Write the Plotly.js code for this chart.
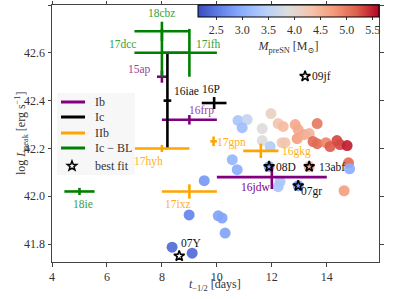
<!DOCTYPE html>
<html>
<head>
<meta charset="utf-8">
<script src="https://cdn.plot.ly/plotly-3.0.1.min.js"></script>
<style>html,body{margin:0;padding:0;background:#fff;}#plot{width:399px;height:299px;}</style>
</head>
<body>
<div id="plot"></div>
<script>
// ---- data: colored model points ----
const modelX = [10.77,11.10,10.92,11.65,11.97,12.23,12.41,12.85,12.96,12.92,13.17,13.36,13.65,13.50,13.65,13.97,14.12,14.37,14.48,14.74,11.65,11.94,12.37,12.48,14.79,14.83,14.63,12.30,12.23,10.56,10.74,9.54,8.99,10.05,10.19,10.30,9.10,8.37,11.90,13.36,12.96];
const modelY = [42.317,42.321,42.287,42.283,42.346,42.304,42.292,42.300,42.279,42.241,42.258,42.262,42.304,42.229,42.220,42.224,42.208,42.233,42.216,42.212,42.233,42.208,42.224,42.224,42.140,42.115,42.023,42.061,42.040,42.153,42.111,42.065,41.922,41.918,41.909,41.846,41.762,41.787,42.124,42.124,42.044];
const modelM = [3.3,3.6,3.2,3.9,4.1,4.3,4.4,4.6,4.6,4.7,4.6,4.5,5.0,5.1,5.1,4.9,5.2,5.3,5.3,5.5,3.9,3.4,4.2,4.3,5.1,3.0,4.7,3.3,3.3,3.1,3.0,2.8,2.6,2.9,2.9,2.9,2.4,2.4,2.9,4.6,2.8];

// ---- best fit stars ----
const starX = [11.90,13.36,12.96,13.21,8.63];
const starY = [42.124,42.124,42.044,42.502,41.750];

// ---- observed SNe with error bars ----
const ibNames = ['15ap','16frp','16jdw'];
const ibX = [8.0,9.0,12.0];
const ibY = [42.50,42.32,42.08];
const ibXerr = [0.18,1.0,2.0];
const ibYerr = [0.025,0.02,0.05];

const icNames = ['16iae','16P'];
const icX = [8.2,9.9];
const icY = [42.40,42.39];
const icXerr = [0.14,0.45];
const icYerr = [0.2,0.025];

const iibNames = ['17hyh','17ixz','17gpn','16gkg'];
const iibX = [8.0,9.0,9.88,11.6];
const iibY = [42.20,42.02,42.23,42.19];
const iibXerr = [1.0,1.0,0.12,0.64];
const iibYerr = [0.015,0.03,0.02,0.03];

const blNames = ['18cbz','17dcc','17ifh','18ie'];
const blX = [8.0,8.0,9.0,5.0];
const blY = [42.69,42.60,42.60,42.02];
const blXerr = [1.0,1.0,1.0,0.55];
const blYerr = [0.04,0.1,0.1,0.015];

// ---- label texts & positions ----
const labText = ['18cbz','17dcc','17ifh','15ap','16iae','16P','16frp','17gpn','16gkg','17hyh','08D','13abf','16jdw','07gr','09jf','18ie','17ixz','07Y'];
const labX = [8.0,6.55,9.7,7.2,8.9,9.8,9.45,10.55,12.9,7.52,12.5,14.2,11.4,13.45,13.8,5.14,8.57,9.07];
const labY = [42.766,42.636,42.636,42.53,42.44,42.45,42.36,42.225,42.187,42.145,42.124,42.124,42.035,42.02,42.50,41.968,41.968,41.804];
const labColor = ['#3aa03a','#3aa03a','#3aa03a','#a040a0','#111','#111','#a040a0','#ffb020','#ffb020','#ffb020','#111','#111','#800080','#111','#111','#3aa03a','#ffb020','#111'];

// ---- legend entries ----
const legNames = ['Ib','Ic','IIb','Ic − BL','best fit'];

const PURPLE='#800080', BLACK='#000000', ORANGE='#ffa500', GREEN='#008000';
const legColors = [PURPLE,BLACK,ORANGE,GREEN,null];
const FONT = 'Liberation Serif, DejaVu Serif, serif';

const coolwarm = [[0,'rgb(59,76,192)'],[0.125,'rgb(98,130,234)'],[0.25,'rgb(141,176,254)'],[0.375,'rgb(184,208,249)'],[0.5,'rgb(221,221,221)'],[0.625,'rgb(245,196,173)'],[0.75,'rgb(244,154,123)'],[0.875,'rgb(222,96,77)'],[1,'rgb(180,4,38)']];

function ebTrace(x,y,xe,ye,color){
  return {x:x,y:y,type:'scatter',mode:'markers',showlegend:false,hoverinfo:'skip',
    marker:{size:1,color:color,opacity:0},
    error_x:{type:'data',array:xe,symmetric:true,color:color,thickness:2.6,width:0},
    error_y:{type:'data',array:ye,symmetric:true,color:color,thickness:2.6,width:0}};
}

const traces = [
  {x:modelX,y:modelY,type:'scatter',mode:'markers',showlegend:false,
   marker:{size:11,color:modelM,colorscale:coolwarm,cmin:2.15,cmax:5.62,opacity:0.92,line:{width:0},
     showscale:true,
     colorbar:{orientation:'h',x:1,xanchor:'right',y:1,yanchor:'top',len:0.552,lenmode:'fraction',
       thickness:12,thicknessmode:'pixels',xpad:0,ypad:0,outlinewidth:1,outlinecolor:'#000',
       tickvals:[2.5,3.0,3.5,4.0,4.5,5.0,5.5],ticktext:['2.5','3.0','3.5','4.0','4.5','5.0','5.5'],
       ticks:'outside',ticklen:3,tickcolor:'#333',tickfont:{family:FONT,size:12,color:'#333'},
       title:{text:'<i>M</i><sub>preSN</sub> [M<sub>⊙</sub>]',side:'bottom',font:{family:FONT,size:12,color:'#333'}}}}},
  ebTrace(ibX,ibY,ibXerr,ibYerr,PURPLE),
  ebTrace(icX,icY,icXerr,icYerr,BLACK),
  ebTrace(iibX,iibY,iibXerr,iibYerr,ORANGE),
  ebTrace(blX,blY,blXerr,blYerr,GREEN),
  {x:starX,y:starY,type:'scatter',mode:'markers',name:'best fit',showlegend:false,
   marker:{symbol:'star-open',size:8,color:'#000',line:{width:1.6,color:'#000'}}}
];

const annotations = labText.map((t,i)=>({x:labX[i],y:labY[i],text:t,showarrow:false,xref:'x',yref:'y',
  font:{family:FONT,size:11.5,color:labColor[i]}}));

// ---- manual legend & axis titles (pixel layout converted to paper coords) ----
const L=52, R=379, T=5, B=262;
const px=(p)=>(p-L)/(R-L), py=(p)=>(B-p)/(B-T);
annotations.push({xref:'paper',yref:'paper',x:px(21),y:py(133),xanchor:'center',yanchor:'middle',textangle:-90,
  text:'log <i>L</i><sub>peak</sub> [erg s<sup>−1</sup>]',showarrow:false,font:{family:FONT,size:12,color:'#333'}});
annotations.push({xref:'paper',yref:'paper',x:px(215),y:py(285),xanchor:'center',yanchor:'middle',
  text:'<i>t</i><sub>−1/2</sub> [days]',showarrow:false,font:{family:FONT,size:12,color:'#333'}});

const shapes=[{type:'rect',xref:'paper',yref:'paper',x0:px(57),x1:px(135),y0:py(175),y1:py(93),
  fillcolor:'rgba(246,246,246,0.85)',line:{width:0},layer:'above'}];
const legRowY=[102,117,133,148,166];
legNames.forEach((n,i)=>{
  if(legColors[i]){
    shapes.push({type:'line',xref:'paper',yref:'paper',x0:px(61),x1:px(85),y0:py(legRowY[i]),y1:py(legRowY[i]),
      line:{color:legColors[i],width:3},layer:'above'});
  }
  annotations.push({xref:'paper',yref:'paper',x:px(93),y:py(legRowY[i]),xanchor:'left',yanchor:'middle',
    text:n,showarrow:false,font:{family:FONT,size:12,color:'#333'}});
});
// star glyph for legend
(function(){
  const cx=72, cy=166, ro=5, ri=2.1; let d='';
  for(let k=0;k<10;k++){
    const r=(k%2===0)?ro:ri; const a=-Math.PI/2+k*Math.PI/5;
    d+=(k===0?'M':'L')+px(cx+r*Math.cos(a)).toFixed(5)+','+py(cy+r*Math.sin(a)).toFixed(5);
  }
  d+='Z';
  shapes.push({type:'path',xref:'paper',yref:'paper',path:d,line:{color:'#000',width:1.5},fillcolor:'rgba(0,0,0,0)',layer:'above'});
})();

const layout = {
  width:399,height:299,margin:{l:52,r:20,t:5,b:37},
  paper_bgcolor:'#fff',plot_bgcolor:'#fff',showlegend:false,
  font:{family:FONT,size:12,color:'#333'},
  xaxis:{range:[4,15.9],tickvals:[4,6,8,10,12,14],ticks:'outside',ticklen:3.5,tickcolor:'#444',
    showline:true,linecolor:'#444',linewidth:1,mirror:'ticks',showgrid:false,zeroline:false,
    tickfont:{family:FONT,size:12,color:'#333'}},
  yaxis:{range:[41.725,42.8],tickvals:[41.8,42.0,42.2,42.4,42.6,42.8],ticktext:['41.8','42.0','42.2','42.4','42.6','42.8'],
    ticks:'outside',ticklen:3.5,tickcolor:'#444',
    showline:true,linecolor:'#444',linewidth:1,mirror:'ticks',showgrid:false,zeroline:false,
    tickfont:{family:FONT,size:12,color:'#333'}},
  annotations:annotations,
  shapes:shapes
};

Plotly.newPlot('plot',traces,layout,{displayModeBar:false,staticPlot:true});
</script>
</body>
</html>
